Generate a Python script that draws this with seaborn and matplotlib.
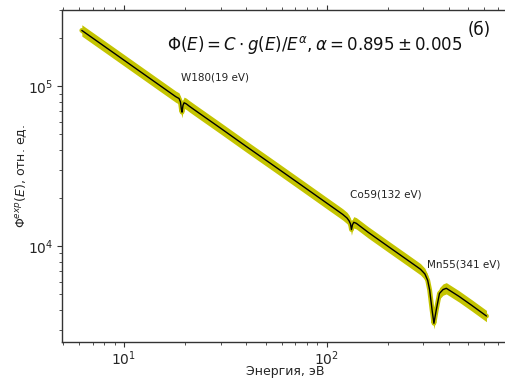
import matplotlib
matplotlib.use("Agg")
import matplotlib.pyplot as plt
import pandas as pd
import seaborn as sns

# Measured spectrum and fitted curve (energy in eV, flux in arbitrary units)
energy_ev = [6.2, 8, 10, 13, 16, 18, 18.7, 19.0, 19.2, 19.35, 19.55, 19.8, 20.3,
             21, 23, 30, 40, 55, 75, 100, 115, 120, 126, 129, 131, 132.5, 134,
             136, 140, 160, 200, 250, 280, 290, 305, 315, 322, 331, 338, 347,
             360, 375, 389, 450, 520, 614]
flux_fit = [2.241e5, 1.784e5, 1.461e5, 1.155e5, 9.59e4, 8.63e4, 8.40e4, 8.0e4,
            7.2e4, 6.9e4, 7.6e4, 7.9e4, 7.78e4, 7.52e4, 6.93e4, 5.47e4, 4.22e4,
            3.18e4, 2.41e4, 1.861e4, 1.642e4, 1.58e4, 1.50e4, 1.44e4, 1.38e4,
            1.27e4, 1.36e4, 1.41e4, 1.39e4, 1.222e4, 1.0e4, 8195, 7403, 7170,
            6700, 6100, 5310, 3980, 3290, 3980, 5060, 5350, 5448, 4842, 4255,
            3651]

# Resonance annotations: text, energy, flux position
res_labels = ["W180(19 eV)", "Co59(132 eV)", "Mn55(341 eV)"]
res_x = [19.1, 130, 312]
res_y = [1.139e5, 2.094e4, 7706]

formula = r"$\Phi(E) = C\cdot g(E)/E^{\alpha}, \alpha = 0.895 \pm 0.005$"
panel = "(б)"

df = pd.DataFrame({"E": energy_ev, "F": flux_fit})

sns.set_style("ticks")
plt.rcParams["font.family"] = ["DejaVu Sans"]

fig = plt.figure(figsize=(5.05, 3.87), dpi=100)
ax = fig.add_axes([62 / 505, 45.5 / 387, 445 / 505, 332 / 387])

# spread of the measured data around the fit
band = 1.085
ax.fill_between(df["E"], df["F"] / band, df["F"] * band, color="#c4c400",
                lw=0, zorder=1)
sns.lineplot(data=df, x="E", y="F", ax=ax, color="#c4c400", lw=3.5,
             estimator=None, sort=False, zorder=2)
sns.lineplot(data=df, x="E", y="F", ax=ax, color="black", lw=1.0,
             estimator=None, sort=False, zorder=3)

ax.set_xscale("log")
ax.set_yscale("log")
ax.set_xlim(4.95, 10 ** (2 + 180 / 202.4))
ax.set_ylim(2530, 3.03e5)

for t, x, y in zip(res_labels, res_x, res_y):
    ax.text(x, y, t, fontsize=7.5, ha="left", va="center", color="#222222")

fig.text(315 / 505, 1 - 45 / 387, formula, fontsize=12, ha="center",
         va="center", color="#111111")
fig.text(479 / 505, 1 - 30 / 387, panel, fontsize=12, ha="center",
         va="center", color="#111111")

ax.set_xlabel("Энергия, эВ", fontsize=9)
ax.set_ylabel(r"$\Phi^{exp}(E)$, отн. ед.", fontsize=9)
ax.tick_params(axis="both", which="both", direction="out", top=True,
               labelsize=10, color="#333333", pad=2.5)
ax.tick_params(which="major", length=3.5)
ax.tick_params(which="minor", length=2)
ax.xaxis.set_label_coords((285 - 62) / 445, -24 / 332)
ax.yaxis.set_label_coords(-33 / 445, 0.5)
for s in ax.spines.values():
    s.set_color("#333333")
    s.set_linewidth(1.0)

fig.savefig("out.png", dpi=100)
